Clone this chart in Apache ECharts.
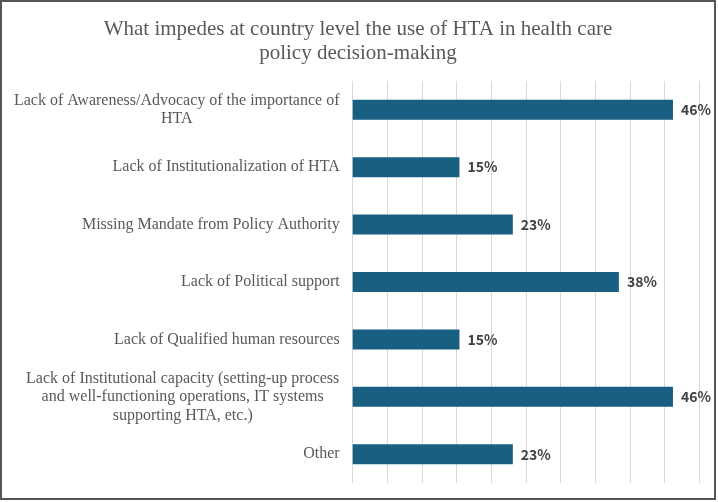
<!DOCTYPE html>
<html lang="en">
<head>
    <meta charset="UTF-8">
    <title>HTA barriers</title>
    <style type="text/css">
        *{
            margin: 0;
            padding: 0;
        }
        body{
            background: #fff;
        }
        #frame{
            position: absolute;
            left: 0;
            top: 0;
            width: 716px;
            height: 500px;
            border: 2px solid #555;
            box-sizing: border-box;
        }
        #main{
            position: absolute;
            left: 0;
            top: 0;
            width: 712px;
            height: 496px;
        }
    </style>
</head>
<body>
    <div id="frame"><div id="main"></div></div>
    <script src="https://cdn.jsdelivr.net/npm/echarts@6/dist/echarts.min.js"></script>
    <script type="text/javascript">
        var titleText = 'What impedes at country level the use of HTA in health care\npolicy decision-making';

        // categories, top to bottom
        var categories = [
            'Lack of Awareness/Advocacy of the importance of\nHTA',
            'Lack of Institutionalization of HTA',
            'Missing Mandate from Policy Authority',
            'Lack of Political support',
            'Lack of Qualified human resources',
            'Lack of Institutional capacity (setting-up process\nand well-functioning operations, IT systems\nsupporting HTA, etc.)',
            'Other'
        ];
        // share of respondents (%)
        var shares = [46.2, 15.4, 23.1, 38.4, 15.4, 46.2, 23.1];

        var serif = '"Liberation Serif", "Times New Roman", serif';
        var labelSize = 16;

        // multi-line labels: lines centred on each other, block right aligned
        var ctx = document.createElement('canvas').getContext('2d');
        ctx.font = labelSize + 'px ' + serif;
        var rich = {};
        categories.forEach(function (c, i) {
            var lines = c.split('\n');
            var w = Math.max.apply(null, lines.map(function (l) { return ctx.measureText(l).width; }));
            rich['l' + i] = {
                width: Math.ceil(w),
                align: 'center',
                fontFamily: serif,
                fontSize: labelSize,
                lineHeight: 18.5,
                color: '#595959'
            };
        });

        var myChart = echarts.init(document.getElementById('main'));

        var option = {
            animation: false,
            title: {
                text: titleText,
                left: 'center',
                top: 10,
                textStyle: {
                    fontFamily: serif,
                    fontSize: 21,
                    fontWeight: 'normal',
                    color: '#595959',
                    lineHeight: 24
                }
            },
            grid: {
                left: 350.7,
                right: 14.7,
                top: 79,
                bottom: 15
            },
            xAxis: {
                type: 'value',
                min: 0,
                max: 50,
                interval: 5,
                axisLabel: { show: false },
                axisLine: { show: false },
                axisTick: { show: false },
                splitLine: {
                    lineStyle: { color: '#d9d9d9', width: 1 }
                }
            },
            yAxis: {
                type: 'category',
                inverse: true,
                data: categories,
                axisLine: { show: false },
                axisTick: { show: false },
                axisLabel: {
                    margin: 13,
                    fontFamily: serif,
                    fontSize: labelSize,
                    color: '#595959',
                    lineHeight: 18.5,
                    rich: rich,
                    formatter: function (value, index) {
                        if (value.indexOf('\n') < 0) return value;
                        return value.split('\n').map(function (l) {
                            return '{l' + index + '|' + l + '}';
                        }).join('\n');
                    }
                }
            },
            series: [{
                type: 'bar',
                data: shares,
                barWidth: 20,
                itemStyle: { color: '#185f82' },
                label: {
                    show: true,
                    position: 'right',
                    distance: 8,
                    fontFamily: '"Noto Sans CJK JP", "Noto Sans", sans-serif',
                    fontWeight: 'bold',
                    fontSize: 14,
                    color: '#404040',
                    formatter: function (p) {
                        return Math.round(p.value) + '%';
                    }
                }
            }]
        };

        myChart.setOption(option);
    </script>
</body>
</html>
